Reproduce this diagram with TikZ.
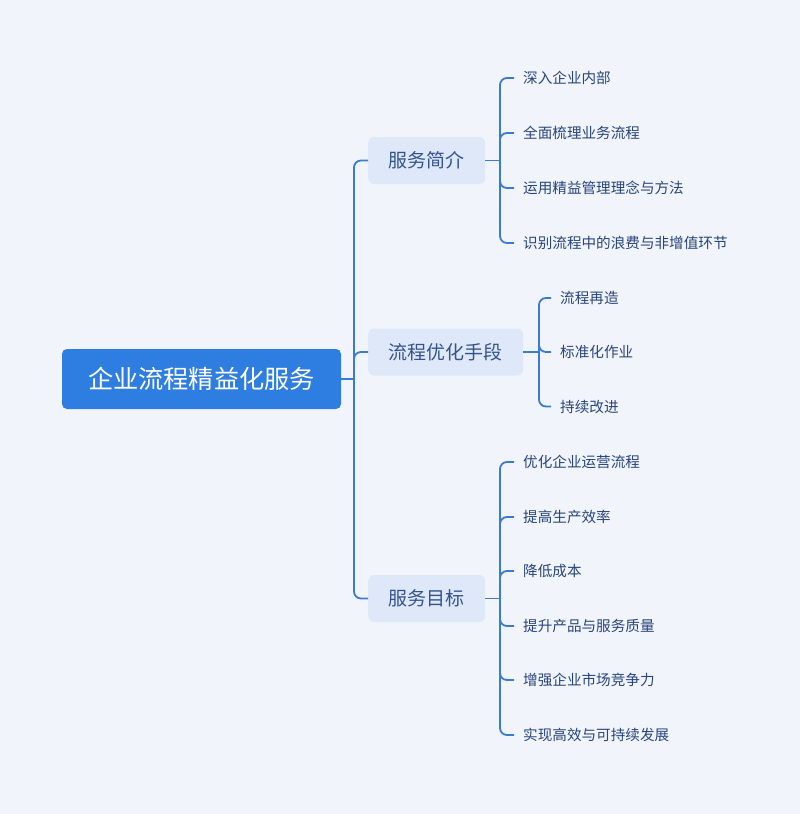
\documentclass[tikz,border=0pt]{standalone}
\usepackage{fontspec}
\setmainfont{Noto Sans CJK SC}
\definecolor{bg}{HTML}{F1F4FA}
\definecolor{rootblue}{HTML}{2E7DE1}
\definecolor{lineblue}{HTML}{3A7BD5}
\definecolor{boxfill}{HTML}{DFE8F8}
\definecolor{txtblue}{HTML}{27457E}
\definecolor{l1txt}{HTML}{31548F}
\begin{document}
\begin{tikzpicture}[x=1pt,y=-1pt,
  rootbox/.style={fill=rootblue,rounded corners=5pt,text=white,font=\fontsize{25.2}{28}\selectfont,minimum width=279pt,minimum height=60pt,inner sep=0pt},
  lonebox/.style={fill=boxfill,rounded corners=6pt,text=l1txt,font=\fontsize{19}{22}\selectfont,minimum height=47pt,inner xsep=20.5pt,inner ysep=0pt,anchor=west},
  leaf/.style={text=txtblue,font=\fontsize{14.6}{17}\selectfont,inner sep=0pt,anchor=west},
  conn/.style={draw=lineblue,line width=1.8pt,rounded corners=7pt}
]
\fill[bg] (0,0) rectangle (800,814);
\useasboundingbox (0,0) rectangle (800,814);

\node[rootbox] (root) at (201.5,379) {企业流程精益化服务};

\node[lonebox] (a) at (368,160.5) {服务简介};
\node[lonebox] (b) at (368,352) {流程优化手段};
\node[lonebox] (c) at (368,598.5) {服务目标};

\coordinate (rj) at (354,379);
\draw[conn] (root.east) -- (rj);
\draw[conn] (rj) |- (a.west);
\draw[conn] (rj) |- (b.west);
\draw[conn] (rj) |- (c.west);

% group a
\node[leaf] (a1) at (523,78) {深入企业内部};
\node[leaf] (a2) at (523,133) {全面梳理业务流程};
\node[leaf] (a3) at (523,188) {运用精益管理理念与方法};
\node[leaf] (a4) at (523,243) {识别流程中的浪费与非增值环节};
\coordinate (aj) at (500,160.5);
\draw[conn] (a.east) -- (aj);
\foreach \n in {a1,a2,a3,a4} \draw[conn] (aj) |- ([xshift=-9pt]\n.west);

% group b
\node[leaf] (b1) at (560,298) {流程再造};
\node[leaf] (b2) at (560,352) {标准化作业};
\node[leaf] (b3) at (560,406.5) {持续改进};
\coordinate (bj) at (539,352);
\draw[conn] (b.east) -- (bj);
\foreach \n in {b1,b2,b3} \draw[conn] (bj) |- ([xshift=-9pt]\n.west);

% group c
\node[leaf] (c1) at (523,462) {优化企业运营流程};
\node[leaf] (c2) at (523,517) {提高生产效率};
\node[leaf] (c3) at (523,571) {降低成本};
\node[leaf] (c4) at (523,626) {提升产品与服务质量};
\node[leaf] (c5) at (523,680) {增强企业市场竞争力};
\node[leaf] (c6) at (523,735) {实现高效与可持续发展};
\coordinate (cj) at (500,598.5);
\draw[conn] (c.east) -- (cj);
\foreach \n in {c1,c2,c3,c4,c5,c6} \draw[conn] (cj) |- ([xshift=-9pt]\n.west);
\end{tikzpicture}
\end{document}
